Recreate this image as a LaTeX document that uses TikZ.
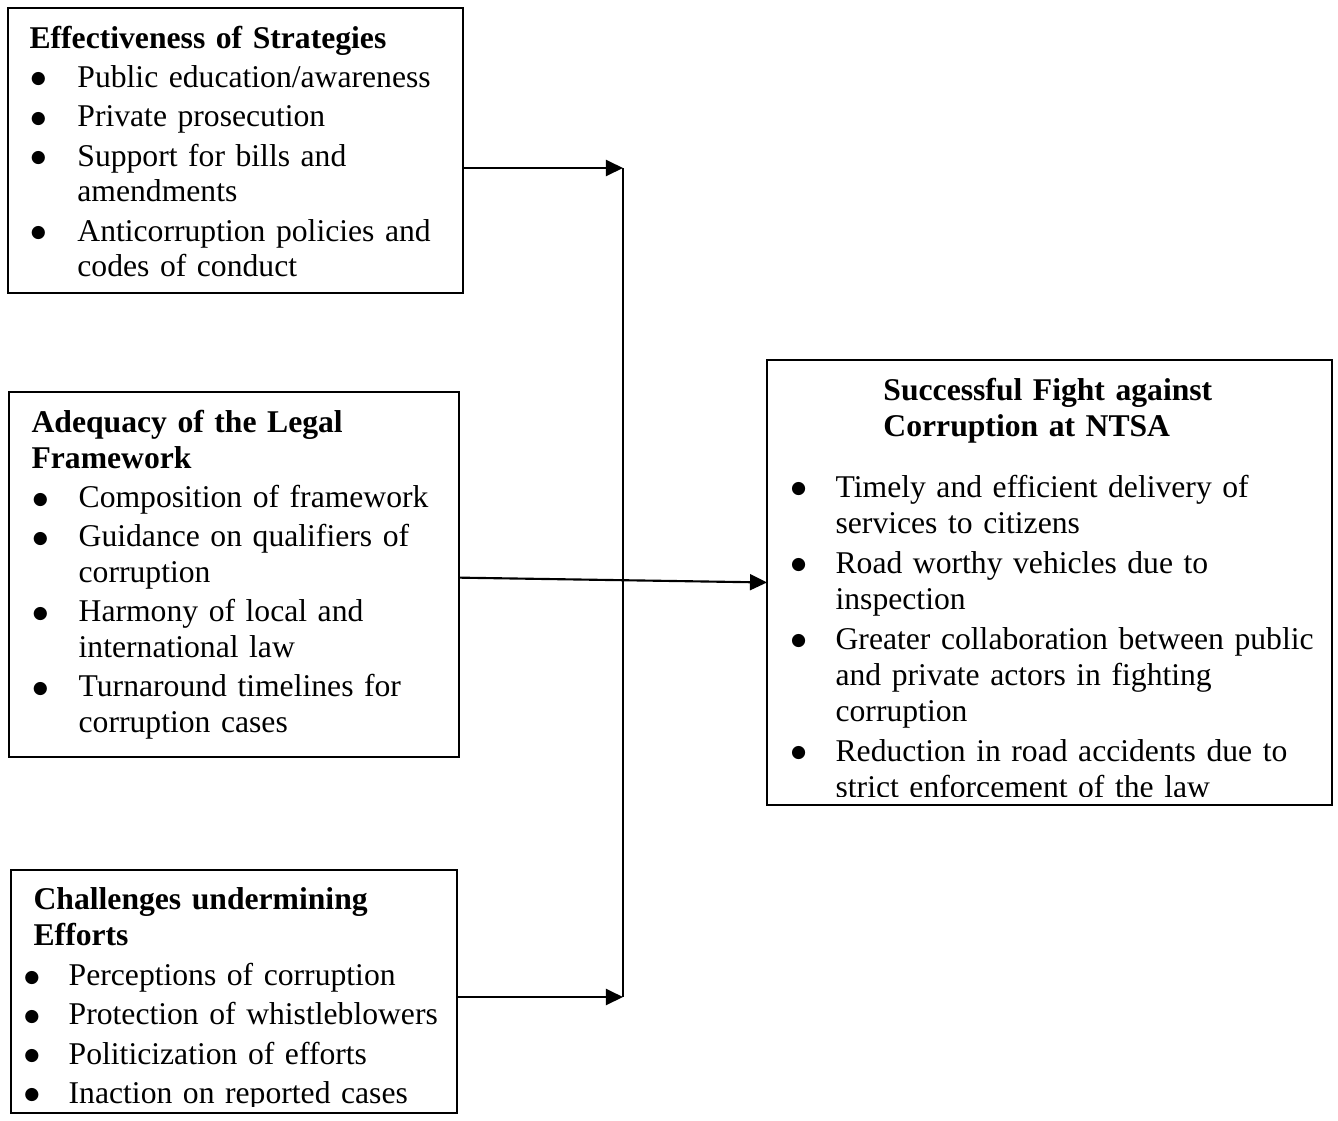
\documentclass[tikz,border=0pt]{standalone}
\usepackage{fontspec}
\setmainfont{Liberation Serif}
\newfontfamily\dotfont{DejaVu Sans}
\usetikzlibrary{positioning,arrows.meta}

\newlength\bulw
\newlength\bulo
\newcommand\bul{\makebox[\bulw][l]{\hspace{\bulo}\raisebox{1.4pt}{\dotfont\fontsize{6.5}{6.5}\selectfont ●}}}
\newcommand\cont{\hspace*{\bulw}}

\tikzset{
  box/.style={draw, line width=0.6pt, inner sep=0pt, outer sep=0pt, anchor=north west},
  txt/.style={inner sep=0pt, text width=#1, align=left, font=\fontsize{11.9}{13.45}\selectfont},
  bulfmt/.style 2 args={execute at begin node={\setlength\bulo{#1}\setlength\bulw{#2}}},
  link/.style={line width=0.8pt},
  arr/.style={link, -{Triangle[length=6.4pt,width=6pt]}},
}

\begin{document}
\begin{tikzpicture}[x=0.376pt, y=-0.376pt]
  \useasboundingbox (0,0) rectangle (1338,1121);

  % boxes
  \node[box, minimum width=171.1pt, minimum height=107.2pt] (strat) at (8,8) {};
  \node[box, minimum width=169.2pt, minimum height=137.2pt] (legal) at (9,392) {};
  \node[box, minimum width=167.7pt, minimum height=91.4pt] (chall) at (11,870) {};
  \node[box, minimum width=212.4pt, minimum height=167.3pt] (fight) at (767,360) {};

  % box texts
  \node[txt=200pt, bulfmt={0.5pt}{18pt}, below right=5.6pt and 7.9pt of strat.north west] (stratT) {%
    \strut\textbf{Effectiveness of Strategies}\\[1.3pt]
    \bul Public education/awareness\\[1.3pt]
    \bul Private prosecution\\[1.3pt]
    \bul Support for bills and\\
    \cont amendments\\[1.3pt]
    \bul Anticorruption policies and\\
    \cont codes of conduct};

  \node[txt=200pt, bulfmt={0.5pt}{17.7pt}, below right=5.7pt and 8.3pt of legal.north west] (legalT) {%
    \strut\textbf{Adequacy of the Legal}\\
    \textbf{Framework}\\[1.3pt]
    \bul Composition of framework\\[1.3pt]
    \bul Guidance on qualifiers of\\
    \cont corruption\\[1.3pt]
    \bul Harmony of local and\\
    \cont international law\\[1.3pt]
    \bul Turnaround timelines for\\
    \cont corruption cases};

  \begin{scope}
    \clip (chall.north west) rectangle ([yshift=2.3pt]chall.south east);
    \node[txt=200pt, bulfmt={0.3pt}{17pt}, below right=5.4pt and 4.5pt of chall.north west] (challT) {%
      \strut\hspace*{3.8pt}\textbf{Challenges undermining}\\
      \hspace*{3.8pt}\textbf{Efforts}\\[1.6pt]
      \bul Perceptions of corruption\\[1.3pt]
      \bul Protection of whistleblowers\\[1.3pt]
      \bul Politicization of efforts\\[1.3pt]
      \bul Inaction on reported cases};
  \end{scope}

  \begin{scope}
    \clip (fight.north west) rectangle ([yshift=3pt]fight.south east);
    \node[txt=210pt, bulfmt={0.3pt}{17pt}, below right=5.65pt and 8.6pt of fight.north west] (fightT) {%
      \strut\hspace*{35pt}\textbf{Successful Fight against}\\
      \hspace*{35pt}\textbf{Corruption at NTSA}\\[9.5pt]
      \bul Timely and efficient delivery of\\
      \cont services to citizens\\[1.7pt]
      \bul Road worthy vehicles due to\\
      \cont inspection\\[1.7pt]
      \bul Greater collaboration between public\\
      \cont and private actors in fighting\\
      \cont corruption\\[1.7pt]
      \bul Reduction in road accidents due to\\
      \cont strict enforcement of the law};
  \end{scope}

  % connectors
  \coordinate (jtop) at (623,168);
  \coordinate (jbot) at (623,997);
  \draw[link] (jtop) -- (jbot);
  \draw[arr] (strat.east |- jtop) -- (jtop);
  \draw[arr] (chall.east |- jbot) -- (jbot);
  \draw[arr] ([yshift=-1.2pt]legal.east) -- (fight.west);
\end{tikzpicture}
\end{document}
